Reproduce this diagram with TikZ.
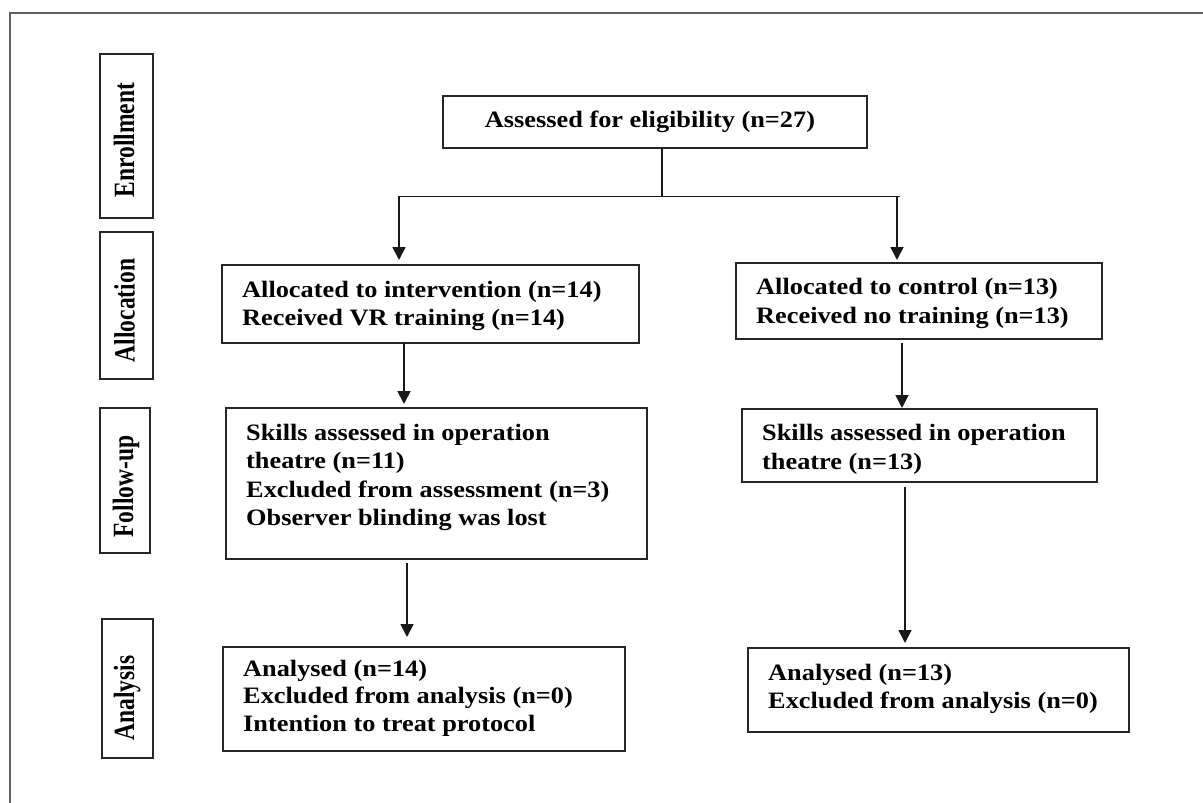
\documentclass[tikz,border=0pt]{standalone}
\usepackage{fontspec}
\setmainfont{Liberation Serif}[FakeStretch=1.12]
\newfontfamily\vfont{Liberation Serif}
\usetikzlibrary{arrows.meta}
\begin{document}
\begin{tikzpicture}[x=1pt,y=-1pt,
  box/.style={draw=black!85, line width=2pt, inner sep=0pt, outer sep=0pt, anchor=north west},
  lab/.style={font=\vfont\bfseries\fontsize{23.5}{28}\selectfont, xscale=1.25, rotate=90, anchor=base, inner sep=0pt},
  txt/.style={font=\bfseries\fontsize{23.5}{28.5}\selectfont, align=left, anchor=north west, inner sep=0pt},
  ln/.style={draw=black!90, line width=1.8pt},
  arr/.style={ln, -{Triangle[width=13pt,length=13pt]}},
  frame/.style={draw=black!62, line width=1.8pt}]
\useasboundingbox (0,0) rectangle (1203,803);
% outer frame
\coordinate (fB) at (10,803);
\coordinate (fC) at (10,13);
\coordinate (fR) at (1203,13);
\draw[frame] (fB) -- (fC) -- (fR);
% stage labels
\node[box, minimum width=53pt, minimum height=164pt] (benr) at (100,54) {};
\node[box, minimum width=53pt, minimum height=147pt] (ball) at (100,232) {};
\node[box, minimum width=50pt, minimum height=145pt] (bfol) at (100,408) {};
\node[box, minimum width=51pt, minimum height=139pt] (bana) at (102,619) {};
\node[lab] (tenr) at (134,140) {Enrollment};
\node[lab] (tall) at (134.5,310.5) {Allocation};
\node[lab] (tfol) at (133,486.5) {Follow-up};
\node[lab] (tana) at (134,698) {Analysis};
% content boxes
\node[box, minimum width=424pt, minimum height=52pt] (elig) at (443,96) {};
\node[box, minimum width=417pt, minimum height=78pt] (la) at (222,265) {};
\node[box, minimum width=366pt, minimum height=76pt] (ra) at (736,263) {};
\node[box, minimum width=421pt, minimum height=151pt] (lf) at (226,408) {};
\node[box, minimum width=355pt, minimum height=73pt] (rf) at (742,409) {};
\node[box, minimum width=402pt, minimum height=104pt] (lan) at (223,647) {};
\node[box, minimum width=381pt, minimum height=84pt] (ran) at (748,648) {};
% texts
\node[txt, anchor=base] (telig) at (650,127) {Assessed for eligibility (n=27)};
\node[txt] (tla) at (242,277) {\strut Allocated to intervention (n=14)\\Received VR training (n=14)};
\node[txt] (tra) at (756,274.5) {\strut Allocated to control (n=13)\\Received no training (n=13)};
\node[txt] (tlf) at (246,420) {\strut Skills assessed in operation\\theatre (n=11)\\Excluded from assessment (n=3)\\Observer blinding was lost};
\node[txt] (trf) at (762,420.8) {\strut Skills assessed in operation\\theatre (n=13)};
\node[txt, font=\bfseries\fontsize{23.5}{27.5}\selectfont] (tlan) at (243,656.7) {\strut Analysed (n=14)\\Excluded from analysis (n=0)\\Intention to treat protocol};
\node[txt] (tran) at (768,660) {\strut Analysed (n=13)\\Excluded from analysis (n=0)};
% connectors
\coordinate (jM) at (662,196.5);
\coordinate (hL) at (398,196.5);
\coordinate (hR) at (900,196.5);
\coordinate (aL) at (399,196.5);
\coordinate (aR) at (897,196.5);
\coordinate (xL2) at (404,0);
\coordinate (xR2) at (902,0);
\coordinate (xL3) at (407,0);
\coordinate (xR3) at (905,0);
\draw[ln] (elig.south -| jM) -- (jM);
\draw[ln] (hL) -- (hR);
\draw[arr, shorten >=5pt] (aL) -- (la.north -| aL);
\draw[arr, shorten >=3pt] (aR) -- (ra.north -| aR);
\draw[arr, shorten >=4pt] (la.south -| xL2) -- (lf.north -| xL2);
\draw[arr, shorten <=4pt, shorten >=1pt] (ra.south -| xR2) -- (rf.north -| xR2);
\draw[arr, shorten <=4pt, shorten >=10pt] (lf.south -| xL3) -- (lan.north -| xL3);
\draw[arr, shorten <=5pt, shorten >=5pt] (rf.south -| xR3) -- (ran.north -| xR3);
\end{tikzpicture}
\end{document}
